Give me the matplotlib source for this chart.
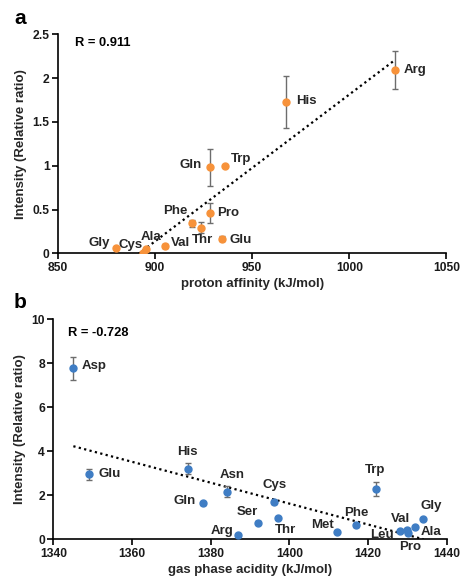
import matplotlib
matplotlib.use("Agg")
import matplotlib.pyplot as plt
import numpy as np

plt.rcParams['font.family'] = ['Liberation Sans', 'DejaVu Sans']
plt.rcParams['font.weight'] = 'bold'

# panel a: proton affinity vs intensity
a_names = ['Gly', 'Cys', 'Ala', 'Val', 'Phe', 'Thr', 'Pro', 'Glu', 'Gln', 'Trp', 'His', 'Arg']
a_x = [880, 894, 895.5, 905, 919, 923.5, 928.3, 934.7, 928.1, 936, 967.6, 1023.6]
a_y = [0.057, 0.008, 0.05, 0.083, 0.342, 0.292, 0.46, 0.167, 0.982, 1.0, 1.731, 2.093]
a_err = [0, 0, 0, 0.02, 0.04, 0.06, 0.11, 0.03, 0.21, 0, 0.295, 0.217]

# panel b: gas phase acidity vs intensity
b_names = ['Asp', 'Glu', 'His', 'Gln', 'Asn', 'Arg', 'Ser', 'Cys', 'Thr', 'Met',
           'Phe', 'Trp', 'Leu', 'Val', 'Pro', 'Ala', 'Gly']
b_x = [1345.1, 1349.1, 1374.2, 1378.1, 1384.2, 1387.0, 1392.1, 1396.1, 1397.2, 1412.0,
       1417.0, 1422.0, 1428.1, 1430.0, 1430.2, 1432.0, 1434.1]
b_y = [7.77, 2.95, 3.21, 1.64, 2.17, 0.2, 0.76, 1.70, 0.98, 0.32,
       0.65, 2.29, 0.36, 0.42, 0.27, 0.58, 0.91]
b_err = [0.52, 0.26, 0.24, 0.06, 0.24, 0, 0.07, 0.1, 0, 0,
         0.07, 0.3, 0, 0.08, 0, 0, 0]

# label offsets in pixels (dx, dy, ha)
a_off = {'Gly': (-6, 5, 'right'), 'Cys': (-1, 8, 'right'), 'Ala': (5, 12, 'center'),
         'Val': (6, 3, 'left'), 'Phe': (-4, 12, 'right'), 'Thr': (2, -12, 'center'),
         'Pro': (7, 0, 'left'), 'Glu': (7, -1, 'left'), 'Gln': (-8, 2, 'right'),
         'Trp': (6, 7, 'left'), 'His': (10, 1, 'left'), 'Arg': (9, 0, 'left')}
b_off = {'Asp': (8, 2, 'left'), 'Glu': (9, 0, 'left'), 'His': (0, 17, 'center'),
         'Asn': (5, 17, 'center'), 'Cys': (1, 17, 'center'), 'Gln': (-7, 2, 'right'),
         'Ser': (-11, 11, 'center'), 'Arg': (-5, 4, 'right'), 'Thr': (7, -12, 'center'),
         'Met': (-3, 7, 'right'), 'Phe': (0, 12, 'center'), 'Trp': (-1, 19, 'center'),
         'Leu': (-18, -4, 'center'), 'Val': (-7, 11, 'center'), 'Pro': (2, -14, 'center'),
         'Ala': (5, -5, 'left'), 'Gly': (8, 13, 'center')}

W, H = 461, 580
fig = plt.figure(figsize=(W / 100, H / 100), dpi=100)
ax_a = fig.add_axes([58 / W, 1 - 253.3 / H, 388.4 / W, 219 / H])
ax_b = fig.add_axes([53.3 / W, 1 - 539.3 / H, 393.4 / W, 220 / H])


def panel(ax, names, x, y, err, offs, color, xlim, ylim, xticks, yticks, xlabel):
    x = np.array(x)
    y = np.array(y)
    k, c = np.polyfit(x, y, 1)
    xs = np.array([x.min(), x.max()])
    ax.plot(xs, k * xs + c, color='black', ls=(0, (1, 1.5)), lw=1.6, zorder=1)
    ax.errorbar(x, y, yerr=err, fmt='o', color=color, ms=5, ecolor='#6d6d6d',
                elinewidth=1, capsize=2.5, capthick=1, zorder=3)
    for n, xi, yi in zip(names, x, y):
        dx, dy, ha = offs[n]
        ax.annotate(n, (xi, yi), xytext=(dx, dy), textcoords='offset pixels',
                    ha=ha, va='center', fontsize=9.5, fontweight='bold', color='#262626')
    ax.set_xlim(*xlim)
    ax.set_ylim(*ylim)
    ax.set_xticks(xticks)
    ax.set_yticks(yticks)
    ax.set_xlabel(xlabel, fontsize=9.5, fontweight='bold', color='#262626', labelpad=3)
    ax.set_ylabel('Intensity (Relative ratio)', fontsize=9.5, fontweight='bold',
                  color='#262626', labelpad=4)
    for s in ['top', 'right']:
        ax.spines[s].set_visible(False)
    for s in ['left', 'bottom']:
        ax.spines[s].set_linewidth(1.2)
    ax.tick_params(direction='out', length=4, width=1.2, labelsize=8.7, pad=2,
                   labelcolor='#1a1a1a')
    for t in ax.get_xticklabels() + ax.get_yticklabels():
        t.set_fontweight('bold')


panel(ax_a, a_names, a_x, a_y, a_err, a_off, '#F7923A', (850, 1050), (0, 2.5),
      [850, 900, 950, 1000, 1050], [0, 0.5, 1, 1.5, 2, 2.5], 'proton affinity (kJ/mol)')
ax_a.set_yticklabels(['0', '0.5', '1', '1.5', '2', '2.5'])
panel(ax_b, b_names, b_x, b_y, b_err, b_off, '#3F7DC4', (1340, 1440), (0, 10),
      [1340, 1360, 1380, 1400, 1420, 1440], [0, 2, 4, 6, 8, 10], 'gas phase acidity (kJ/mol)')

fig.text(75 / W, 1 - 43.3 / H, 'R = 0.911', fontsize=9.3, fontweight='bold', va='center')
fig.text(68.3 / W, 1 - 332.7 / H, 'R = -0.728', fontsize=9.3, fontweight='bold', va='center')
fig.text(14 / W, 1 - 18 / H, 'a', fontsize=15, fontweight='bold', va='center')
fig.text(14 / W, 1 - 303 / H, 'b', fontsize=15, fontweight='bold', va='center')

fig.savefig('out.png', dpi=100)
